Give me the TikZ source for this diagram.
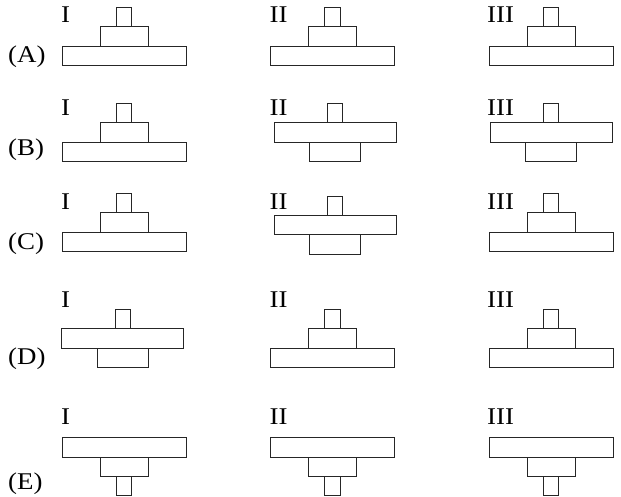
\documentclass[tikz,border=0pt]{standalone}
\usepackage{fontspec}
\setmainfont{Liberation Serif}
\newfontfamily\lblfont[FakeStretch=1.12]{Liberation Serif}
\usetikzlibrary{positioning}

\begin{document}
\begin{tikzpicture}[x=1pt, y=-1pt,
  box/.style={draw=black!85, line width=0.6pt, minimum height=19.3pt,
    inner sep=0pt, outer sep=0pt},
  slab/.style={box, minimum width=124pt},
  narrowslab/.style={box, minimum width=122pt},
  block/.style={box, minimum width=48pt},
  wideblock/.style={box, minimum width=51pt},
  peg/.style={box, minimum width=15.3pt},
  lbl/.style={font=\lblfont\fontsize{24}{24}\selectfont, anchor=base west, inner sep=0pt},
]
\useasboundingbox (0,0) rectangle (621,497);

% =================== (A) ===================
\node[lbl] (al) at (8,62.5) {(A)};
\node[lbl] (a1l) at (61,22.7) {I};
\node[lbl] (a2l) at (269.5,22.7) {II};
\node[lbl] (a3l) at (487,22.7) {III};

\node[slab, anchor=north] (a1s) at (124,46) {};
\node[block, above=0pt of a1s] (a1b) {};
\node[peg, above=0pt of a1b] (a1p) {};

\node[slab, anchor=north] (a2s) at (332.3,46) {};
\node[block, above=0pt of a2s] (a2b) {};
\node[peg, above=0pt of a2b] (a2p) {};

\node[slab, anchor=north] (a3s) at (550.8,46) {};
\node[block, above=0pt of a3s] (a3b) {};
\node[peg, above=0pt of a3b] (a3p) {};

% =================== (B) ===================
\node[lbl] (bl) at (8,156) {(B)};
\node[lbl] (b1l) at (61,116) {I};
\node[lbl] (b2l) at (269.5,116) {II};
\node[lbl] (b3l) at (487,116) {III};

\node[slab, anchor=north] (b1s) at (124,141.9) {};
\node[block, above=0pt of b1s] (b1b) {};
\node[peg, above=0pt of b1b] (b1p) {};

\node[narrowslab, anchor=north] (b2s) at (335,122.6) {};
\node[peg, above=0pt of b2s] (b2p) {};
\node[wideblock, below=0pt of b2s] (b2b) {};

\node[narrowslab, anchor=north] (b3s) at (550.8,122.6) {};
\node[peg, above=0pt of b3s] (b3p) {};
\node[wideblock, below=0pt of b3s] (b3b) {};

% =================== (C) ===================
\node[lbl] (cl) at (8,249) {(C)};
\node[lbl] (c1l) at (61,210) {I};
\node[lbl] (c2l) at (269.5,210) {II};
\node[lbl] (c3l) at (487,210) {III};

\node[slab, anchor=north] (c1s) at (124,232) {};
\node[block, above=0pt of c1s] (c1b) {};
\node[peg, above=0pt of c1b] (c1p) {};

\node[narrowslab, anchor=north] (c2s) at (335,215.3) {};
\node[peg, above=0pt of c2s] (c2p) {};
\node[wideblock, below=0pt of c2s] (c2b) {};

\node[slab, anchor=north] (c3s) at (550.8,232) {};
\node[block, above=0pt of c3s] (c3b) {};
\node[peg, above=0pt of c3b] (c3p) {};

% =================== (D) ===================
\node[lbl] (dl) at (8,364) {(D)};
\node[lbl] (d1l) at (61,307) {I};
\node[lbl] (d2l) at (269.5,307) {II};
\node[lbl] (d3l) at (487,307) {III};

\node[narrowslab, anchor=north] (d1s) at (122.5,328.6) {};
\node[peg, above=0pt of d1s] (d1p) {};
\node[wideblock, below=0pt of d1s] (d1b) {};

\node[slab, anchor=north] (d2s) at (332.3,348) {};
\node[block, above=0pt of d2s] (d2b) {};
\node[peg, above=0pt of d2b] (d2p) {};

\node[slab, anchor=north] (d3s) at (550.8,348) {};
\node[block, above=0pt of d3s] (d3b) {};
\node[peg, above=0pt of d3b] (d3p) {};

% =================== (E) ===================
\node[lbl] (el) at (8,489) {(E)};
\node[lbl] (e1l) at (61,424) {I};
\node[lbl] (e2l) at (269.5,424) {II};
\node[lbl] (e3l) at (487,424) {III};

\node[slab, anchor=north] (e1s) at (124,437.7) {};
\node[block, below=0pt of e1s] (e1b) {};
\node[peg, below=0pt of e1b] (e1p) {};

\node[slab, anchor=north] (e2s) at (332.3,437.7) {};
\node[block, below=0pt of e2s] (e2b) {};
\node[peg, below=0pt of e2b] (e2p) {};

\node[slab, anchor=north] (e3s) at (550.8,437.7) {};
\node[block, below=0pt of e3s] (e3b) {};
\node[peg, below=0pt of e3b] (e3p) {};

\end{tikzpicture}
\end{document}
